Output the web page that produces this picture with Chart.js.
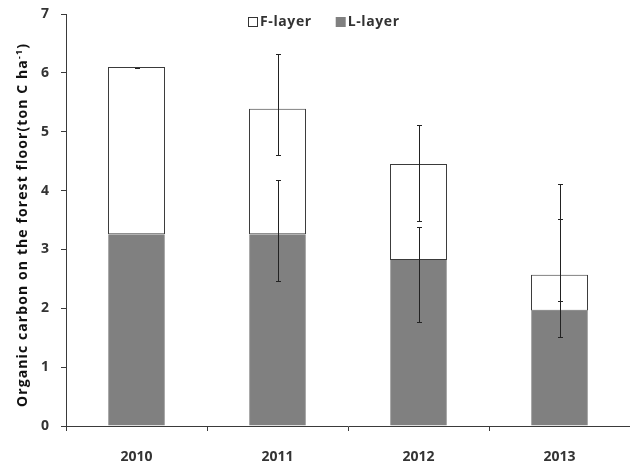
<!DOCTYPE html>
<html>
<head>
<meta charset="utf-8">
<script src="https://cdn.jsdelivr.net/npm/chart.js@4/dist/chart.umd.min.js"></script>
<style>
html,body{margin:0;padding:0;background:#fff;}
#wrap{width:630px;height:464px;position:relative;}
</style>
</head>
<body>
<div id="wrap"><canvas id="c"></canvas></div>
<script>
// ---- data ----
const years = ['2010', '2011', '2012', '2013'];
const lLayer = [3.26, 3.26, 2.82, 1.96];          // bottom segment
const fLayer = [2.84, 2.13, 1.63, 0.61];          // top segment (stack totals 6.10, 5.39, 4.45, 2.57)
const fErrLow  = [6.09, 4.60, 3.49, 2.13];
const fErrHigh = [6.09, 6.32, 5.11, 4.12];
const lErrLow  = [null, 2.47, 1.76, 1.52];
const lErrHigh = [null, 4.18, 3.38, 3.51];
const yTicks = [0, 1, 2, 3, 4, 5, 6, 7];
const yTitleMain = 'Organic carbon on the forest floor(ton C ha';
const yTitleSup = '-1';
const yTitleEnd = ')';
const seriesNames = ['L-layer', 'F-layer'];

const FONT = '"Open Sans", "DejaVu Sans", sans-serif';
const DARK = '#3a3a3a';
const TEXT = '#333333';

const errorBars = {
  id: 'errorBars',
  afterDatasetsDraw(chart) {
    const ctx = chart.ctx, y = chart.scales.y;
    const meta = chart.getDatasetMeta(0);
    ctx.save();
    ctx.strokeStyle = '#222';
    ctx.lineWidth = 1;
    const draw = (x, lo, hi) => {
      if (lo === null || hi === null) return;
      const y1 = Math.round(y.getPixelForValue(lo)) + 0.5, y2 = Math.round(y.getPixelForValue(hi)) + 0.5;
      ctx.beginPath();
      ctx.moveTo(x, y1); ctx.lineTo(x, y2);
      ctx.moveTo(x - 2.5, y1); ctx.lineTo(x + 2.5, y1);
      ctx.moveTo(x - 2.5, y2); ctx.lineTo(x + 2.5, y2);
      ctx.stroke();
    };
    meta.data.forEach((bar, i) => {
      const x = Math.round(bar.x) + 0.5;
      draw(x, fErrLow[i], fErrHigh[i]);
      draw(x, lErrLow[i], lErrHigh[i]);
    });
    ctx.restore();
  }
};

const yTitlePlugin = {
  id: 'yTitlePlugin',
  afterDraw(chart) {
    const ctx = chart.ctx;
    ctx.save();
    ctx.fillStyle = '#111';
    ctx.textBaseline = 'middle';
    ctx.textAlign = 'left';
    const mainFont = 'bold 14px ' + FONT, supFont = 'bold 9px ' + FONT;
    if ('letterSpacing' in ctx) ctx.letterSpacing = '1.1px';
    ctx.font = mainFont;
    const w1 = ctx.measureText(yTitleMain).width;
    const w3 = ctx.measureText(yTitleEnd).width;
    ctx.font = supFont;
    const w2 = ctx.measureText(yTitleSup).width;
    const total = w1 + w2 + w3;
    ctx.translate(23, 225);
    ctx.rotate(-Math.PI / 2);
    let x = -total / 2;
    ctx.font = mainFont;
    ctx.fillText(yTitleMain, x, 0);
    x += w1;
    ctx.font = supFont;
    ctx.fillText(yTitleSup, x, -4);
    x += w2;
    ctx.font = mainFont;
    ctx.fillText(yTitleEnd, x, 0);
    ctx.restore();
  }
};

const customLegend = {
  id: 'customLegend',
  afterDraw(chart) {
    const ctx = chart.ctx;
    ctx.save();
    if ('letterSpacing' in ctx) ctx.letterSpacing = '0.6px';
    ctx.font = 'bold 14px ' + FONT;
    ctx.textBaseline = 'middle';
    const items = chart.data.datasets.slice().reverse();
    const box = 10, gap = 2, spacing = 24;
    const widths = items.map(d => box + gap + ctx.measureText(d.label).width);
    const total = widths.reduce((a, b) => a + b, 0) + spacing * (items.length - 1);
    let x = Math.round(chart.width / 2 + 9 - total / 2);
    const cy = 22;
    items.forEach((d, i) => {
      ctx.fillStyle = d.backgroundColor;
      ctx.fillRect(x, cy - 5, box, box);
      if (d.label === 'F-layer') {
        ctx.strokeStyle = '#333';
        ctx.lineWidth = 1;
        ctx.strokeRect(x + 0.5, cy - 4.5, box - 1, box - 1);
      }
      ctx.fillStyle = TEXT;
      ctx.fillText(d.label, x + box + gap, cy);
      x += widths[i] + spacing;
    });
    ctx.restore();
  }
};

new Chart(document.getElementById('c'), {
  type: 'bar',
  data: {
    labels: years,
    datasets: [
      {
        label: seriesNames[0],
        data: lLayer,
        backgroundColor: '#808080',
        borderColor: '#a8a8a8',
        borderWidth: { top: 0, left: 1, right: 1, bottom: 0 },
        borderSkipped: false,
        barPercentage: 0.404,
        categoryPercentage: 1
      },
      {
        label: seriesNames[1],
        data: fLayer,
        backgroundColor: '#ffffff',
        borderColor: DARK,
        borderWidth: 1,
        borderSkipped: false,
        barPercentage: 0.404,
        categoryPercentage: 1
      }
    ]
  },
  options: {
    responsive: true,
    maintainAspectRatio: false,
    animation: false,
    layout: { padding: { top: 14, right: 0, left: 0, bottom: 0 } },
    plugins: {
      legend: { display: false },
      tooltip: { enabled: false }
    },
    scales: {
      x: {
        stacked: true,
        offset: true,
        grid: {
          offset: true,
          drawOnChartArea: false,
          drawTicks: true,
          tickLength: 5,
          color: DARK,
          lineWidth: 1
        },
        border: { display: true, color: DARK, width: 1 },
        ticks: {
          color: TEXT,
          font: { family: FONT, size: 14, weight: 'bold' },
          padding: 18,
          maxRotation: 0
        },
        afterFit(scale) { scale.height = 38; scale.paddingLeft = 0; scale.paddingRight = 0; }
      },
      y: {
        stacked: true,
        min: 0,
        max: 7,
        afterBuildTicks(scale) { scale.ticks = yTicks.map(v => ({ value: v })); },
        grid: {
          drawOnChartArea: false,
          drawTicks: true,
          tickLength: 5,
          color: DARK,
          lineWidth: 1
        },
        border: { display: true, color: DARK, width: 1 },
        ticks: {
          color: TEXT,
          font: { family: FONT, size: 14, weight: 'bold' },
          padding: 12
        },
        title: { display: false },
        afterFit(scale) { scale.width = 66; scale.paddingTop = 0; scale.paddingBottom = 0; }
      }
    }
  },
  plugins: [errorBars, yTitlePlugin, customLegend]
});
</script>
</body>
</html>
